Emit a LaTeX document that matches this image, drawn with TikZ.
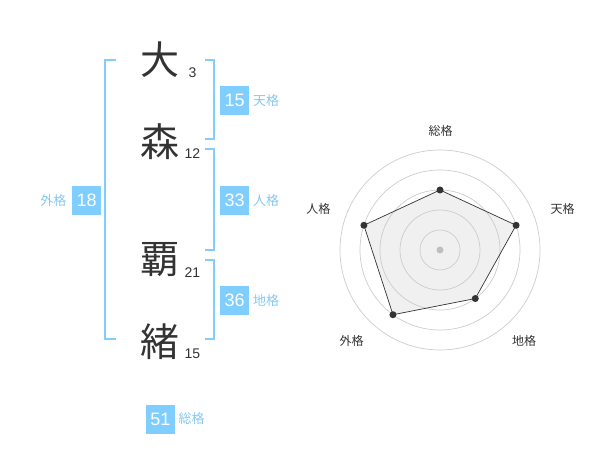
\documentclass[tikz,border=0pt]{standalone}
\usepackage{fontspec}
\setmainfont{Liberation Sans}
\newfontfamily\jpfont{Noto Sans CJK JP}
\definecolor{skyblue}{RGB}{128,206,255}
\definecolor{kakublue}{RGB}{135,200,240}
\definecolor{ink}{RGB}{51,51,51}

\begin{document}
\begin{tikzpicture}[x=1pt,y=-1pt,
    kanji/.style={font=\jpfont\fontsize{39}{39}\selectfont, text=ink, inner sep=0pt},
    strokes/.style={font=\fontsize{14}{14}\selectfont, text=ink, inner sep=0pt},
    score/.style={fill=skyblue, text=white, font=\fontsize{18}{18}\selectfont, minimum size=29pt, inner sep=0pt},
    kaku/.style={font=\jpfont\fontsize{13}{13}\selectfont, text=kakublue, inner sep=0pt},
    bracket/.style={draw=skyblue, line width=2pt},
    ring/.style={draw=black!20, line width=0.7pt},
    dot/.style={circle, fill=ink, inner sep=0pt, minimum size=7pt},
    axis/.style={font=\jpfont\fontsize{12}{12}\selectfont, text=ink, inner sep=0pt}]
    \useasboundingbox (0,0) rectangle (600,470);

    \node[kanji] (C1) at (160,60) {大};
    \node[kanji] (C2) at (160,141.7) {森};
    \node[kanji] (C3) at (160,260) {覇};
    \node[kanji] (C4) at (160,341.7) {緒};
    \node[strokes] (N1) at (192.5,72.7) {3};
    \node[strokes] (N2) at (192.5,153.3) {12};
    \node[strokes] (N3) at (192.5,272.7) {21};
    \node[strokes] (N4) at (192.5,353.3) {15};

    \draw[bracket] (115.7,60) -- (105,60) -- (105,339.3) -- (115.7,339.3);
    \draw[bracket] (205,60) -- (214.3,60) -- (214.3,139.3) -- (205,139.3);
    \draw[bracket] (205,149.3) -- (214.3,149.3) -- (214.3,250) -- (205,250);
    \draw[bracket] (205,260) -- (214.3,260) -- (214.3,339.3) -- (205,339.3);

    \node[score] (Ten) at (234.7,100.5) {15};
    \node[kaku] (TenL) at (266,100.5) {天格};
    \node[score] (Jin) at (234.7,200.3) {33};
    \node[kaku] (JinL) at (266,200.3) {人格};
    \node[score] (Chi) at (234.7,300.3) {36};
    \node[kaku] (ChiL) at (266,300.3) {地格};
    \node[score] (Gai) at (86.7,200.3) {18};
    \node[kaku] (GaiL) at (53.3,200.3) {外格};
    \node[score] (Sou) at (160.5,419) {51};
    \node[kaku] (SouL) at (191.7,419) {総格};

    \begin{scope}[shift={(440,250)}, y=1pt]
        \coordinate (P1) at (90:60);
        \coordinate (P2) at (18:80);
        \coordinate (P3) at (-54:60);
        \coordinate (P4) at (234:80);
        \coordinate (P5) at (162:80);
        \fill[black!6] (P1) -- (P2) -- (P3) -- (P4) -- (P5) -- cycle;
        \foreach \r in {20,40,...,100}
            \draw[ring] (0,0) circle (\r);
        \fill[black!25] (0,0) circle (3.5);
        \draw[ink, line width=0.7pt] (P1) -- (P2) -- (P3) -- (P4) -- (P5) -- cycle;
        \foreach \p in {P1,P2,P3,P4,P5}
            \node[dot] at (\p) {};
    \end{scope}

    \node[axis] (A1) at (440.7,130.7) {総格};
    \node[axis] (A2) at (562.7,208.7) {天格};
    \node[axis] (A3) at (524,340.7) {地格};
    \node[axis] (A4) at (351.7,340.7) {外格};
    \node[axis] (A5) at (318.3,208.7) {人格};
\end{tikzpicture}
\end{document}
